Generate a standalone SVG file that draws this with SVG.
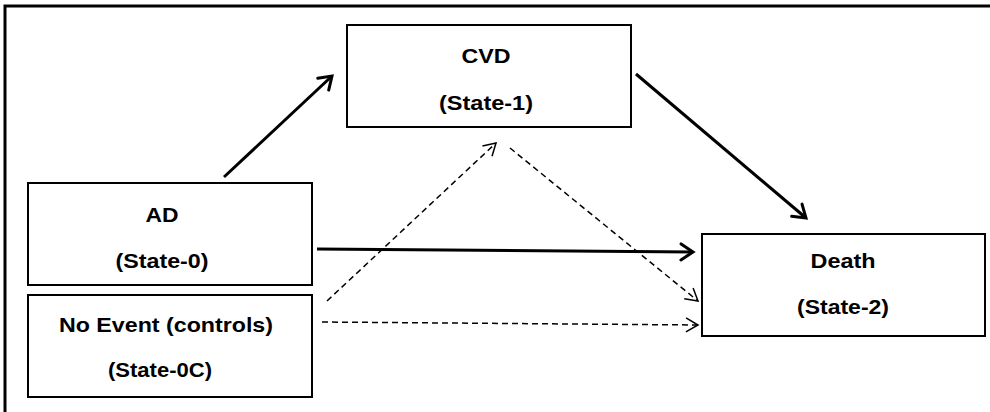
<svg xmlns="http://www.w3.org/2000/svg" width="990" height="412" viewBox="0 0 990 412">
  <style>
    .box { fill: #ffffff; stroke: #000000; stroke-width: 2; }
    .lbl { font-family: "Liberation Sans", Arial, sans-serif; font-weight: bold; font-size: 20.5px; fill: #000000; text-anchor: middle; }
    .solid { fill: none; stroke: #000000; stroke-width: 3; marker-end: url(#headSolid); }
    .dash { fill: none; stroke: #000000; stroke-width: 1.5; stroke-dasharray: 6 4; marker-end: url(#headDash); }
    .frame { fill: none; stroke: #000000; stroke-width: 3; }
  </style>
  <defs>
    <marker id="headSolid" markerUnits="userSpaceOnUse" markerWidth="20" markerHeight="20" viewBox="0 0 20 20" refX="15" refY="10" orient="auto">
      <path d="M3,2 L15,10 L3,18" fill="none" stroke="#000000" stroke-width="3" stroke-linecap="round" stroke-linejoin="miter"/>
    </marker>
    <marker id="headDash" markerUnits="userSpaceOnUse" markerWidth="20" markerHeight="20" viewBox="0 0 20 20" refX="15" refY="10" orient="auto">
      <path d="M3,3 L15,10 L3,17" fill="none" stroke="#000000" stroke-width="1.5"/>
    </marker>
  </defs>
  <rect width="990" height="412" fill="#ffffff"/>
  <path class="frame" d="M5,412 L5,6 L990,6"/>

  <g id="connectors">
    <line class="solid" x1="224" y1="177" x2="332" y2="76"/>
    <line class="solid" x1="636" y1="74" x2="806" y2="218"/>
    <line class="solid" x1="317" y1="249" x2="693" y2="252"/>
    <line class="dash" x1="327" y1="301" x2="496" y2="143"/>
    <line class="dash" x1="510" y1="148" x2="698" y2="301"/>
    <line class="dash" x1="322" y1="322" x2="698" y2="325"/>
  </g>

  <g id="cvd">
    <rect class="box" x="347" y="25" width="284" height="102"/>
    <text class="lbl" x="486" y="63" textLength="49" lengthAdjust="spacingAndGlyphs">CVD</text>
    <text class="lbl" x="486" y="110" textLength="94" lengthAdjust="spacingAndGlyphs">(State-1)</text>
  </g>

  <g id="ad">
    <rect class="box" x="28" y="183" width="284" height="102"/>
    <text class="lbl" x="162" y="222" textLength="33" lengthAdjust="spacingAndGlyphs">AD</text>
    <text class="lbl" x="162" y="268" textLength="93" lengthAdjust="spacingAndGlyphs">(State-0)</text>
  </g>

  <g id="noevent">
    <rect class="box" x="28" y="295" width="284" height="102"/>
    <text class="lbl" x="166" y="332" textLength="214" lengthAdjust="spacingAndGlyphs">No Event (controls)</text>
    <text class="lbl" x="160" y="377" textLength="104" lengthAdjust="spacingAndGlyphs">(State-0C)</text>
  </g>

  <g id="death">
    <rect class="box" x="702" y="234" width="283" height="102"/>
    <text class="lbl" x="843" y="268" textLength="65" lengthAdjust="spacingAndGlyphs">Death</text>
    <text class="lbl" x="843" y="314" textLength="92" lengthAdjust="spacingAndGlyphs">(State-2)</text>
  </g>
</svg>
